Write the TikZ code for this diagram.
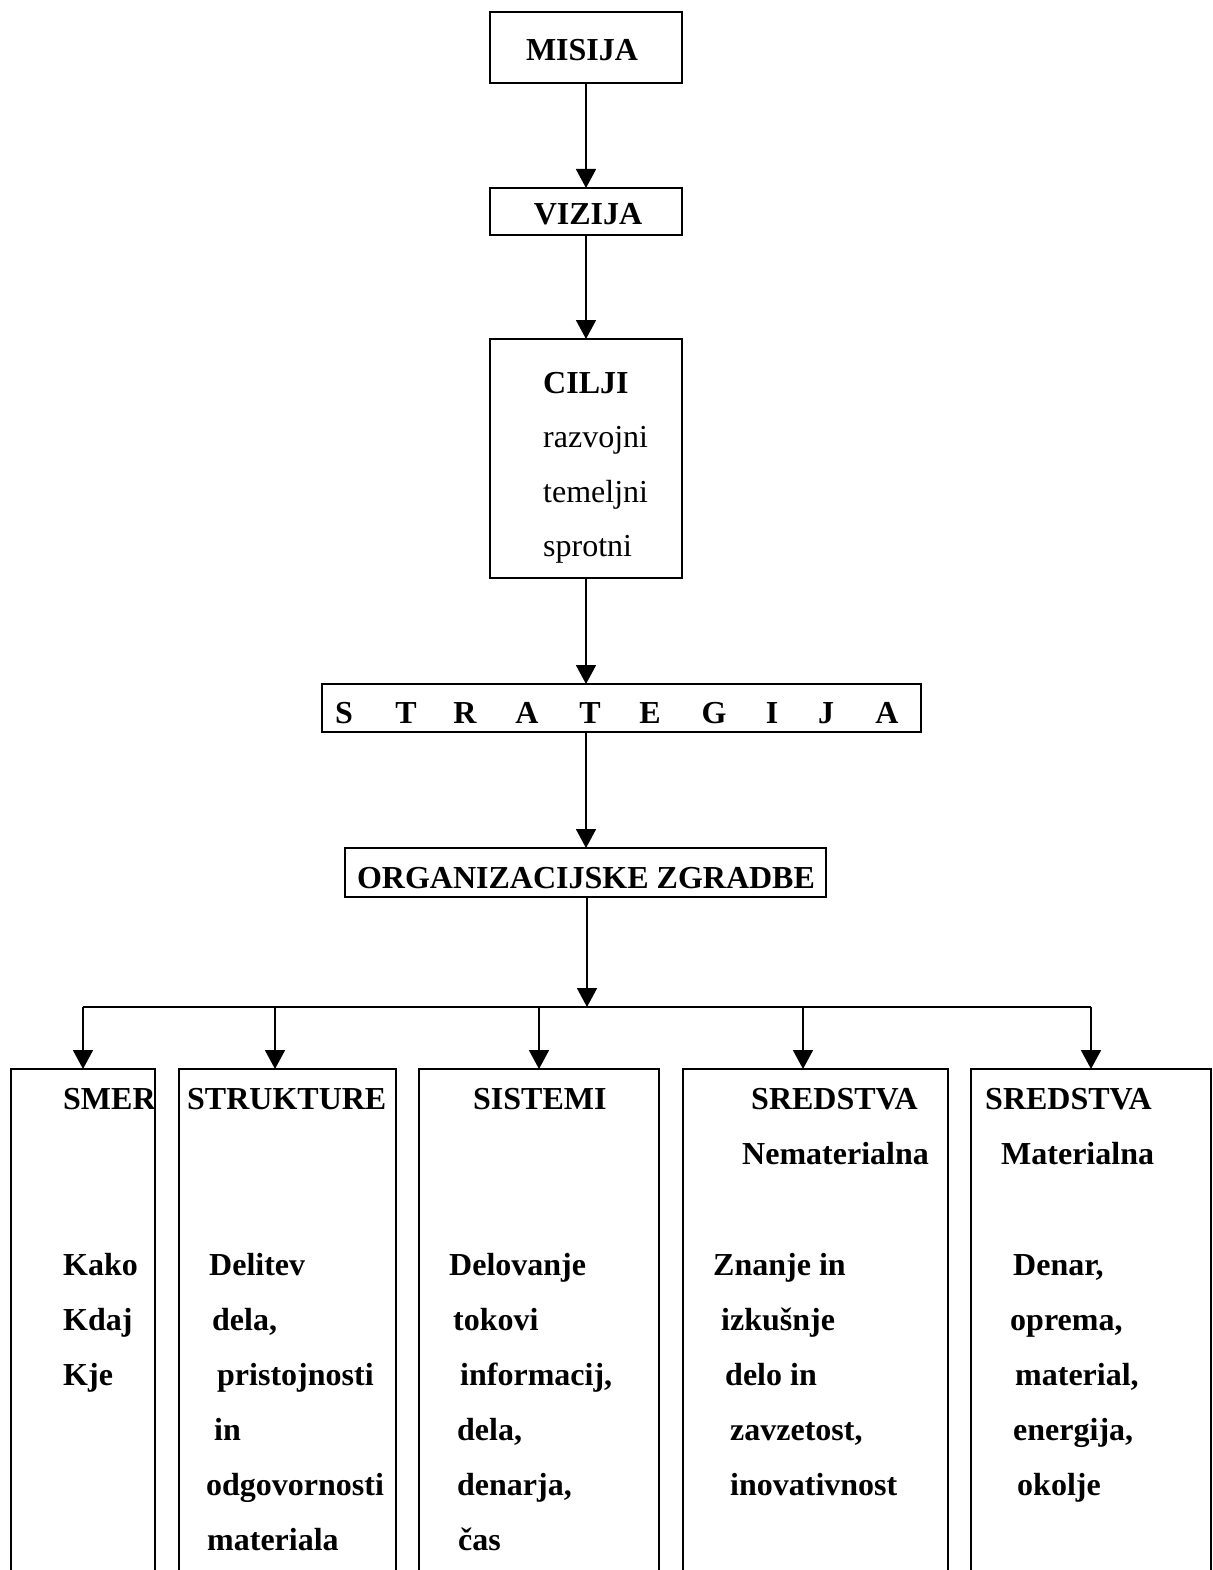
\documentclass[tikz,border=0pt]{standalone}
\usepackage{fontspec}
\setmainfont{Liberation Serif}
\usetikzlibrary{arrows.meta}
\begin{document}
\begin{tikzpicture}[x=1pt,y=-1pt,
  box/.style={draw, line width=1.8pt, inner sep=0pt, outer sep=0pt, anchor=north west},
  bt/.style={anchor=base west, inner sep=0pt, font=\bfseries\fontsize{32}{38}\selectfont},
  rt/.style={anchor=base west, inner sep=0pt, font=\fontsize{32}{38}\selectfont},
  ct/.style={anchor=base, inner sep=0pt, font=\bfseries\fontsize{32}{38}\selectfont},
  link/.style={line width=1.8pt, -{Triangle[width=20pt,length=19pt]}},
  wire/.style={line width=1.8pt},
]
\useasboundingbox (0,0) rectangle (1212,1570);
\clip (0,0) rectangle (1212,1570);

% chain of boxes at the top
\node[box, minimum width=192pt, minimum height=71pt] (misija) at (490,12) {};
\node[ct] (misijat) at (582,61) {MISIJA};
\node[box, minimum width=192pt, minimum height=47pt] (vizija) at (490,188) {};
\node[ct] (vizijat) at (588,225) {VIZIJA};
\node[box, minimum width=192pt, minimum height=239pt] (cilji) at (490,339) {};
\node[bt] (c0) at (543,393) {CILJI};
\node[rt] (c1) at (543,447) {razvojni};
\node[rt] (c2) at (543,502) {temeljni};
\node[rt] (c3) at (543,556) {sprotni};

\node[box, minimum width=599pt, minimum height=48pt] (strat) at (322,684) {};
\foreach \ch/\cx [count=\i] in {S/344,T/406,R/465,A/527,T/590,E/650,G/714,I/772,J/826,A/887}
  \node[ct] (st\i) at (\cx,723) {\ch};

\node[box, minimum width=481pt, minimum height=49pt] (org) at (345,848) {};
\node[ct] (orgt) at (586,888) {ORGANIZACIJSKE ZGRADBE};

% connectors down the chain
\draw[link] (misija.south) -- (vizija.north);
\draw[link] (vizija.south) -- (cilji.north);
\draw[link] (cilji.south) -- (cilji.south |- strat.north);
\draw[link] (cilji.south |- strat.south) -- (cilji.south |- org.north);

% distribution bar
\coordinate (hub) at (587,1007);
\coordinate (d1) at (83,1007);
\coordinate (d2) at (275,1007);
\coordinate (d3) at (539,1007);
\coordinate (d4) at (803,1007);
\coordinate (d5) at (1091,1007);
\draw[link] (org.south -| hub) -- (hub);
\draw[wire] (d1) -- (d5);

% bottom boxes (running past the lower edge)
\node[box, minimum width=144pt, minimum height=520pt] (smer) at (11,1069) {};
\node[box, minimum width=217pt, minimum height=520pt] (strukt) at (179,1069) {};
\node[box, minimum width=240pt, minimum height=520pt] (sist) at (419,1069) {};
\node[box, minimum width=265pt, minimum height=520pt] (nemat) at (683,1069) {};
\node[box, minimum width=240pt, minimum height=520pt] (mat) at (971,1069) {};

\draw[link] (d1) -- (d1 |- smer.north);
\draw[link] (d2) -- (d2 |- strukt.north);
\draw[link] (d3) -- (d3 |- sist.north);
\draw[link] (d4) -- (d4 |- nemat.north);
\draw[link] (d5) -- (d5 |- mat.north);

% SMER
\node[bt] (s0) at (63,1109) {SMER};
\node[bt] (s1) at (63,1275) {Kako};
\node[bt] (s2) at (63,1330) {Kdaj};
\node[bt] (s3) at (63,1385) {Kje};

% STRUKTURE
\node[bt] (t0) at (187,1109) {STRUKTURE};
\node[bt] (t1) at (209,1275) {Delitev};
\node[bt] (t2) at (212,1330) {dela,};
\node[bt] (t3) at (217,1385) {pristojnosti};
\node[bt] (t4) at (214,1440) {in};
\node[bt] (t5) at (206,1495) {odgovornosti};
\node[bt] (t6) at (207,1550) {materiala};

% SISTEMI
\node[bt] (y0) at (473,1109) {SISTEMI};
\node[bt] (y1) at (449,1275) {Delovanje};
\node[bt] (y2) at (453,1330) {tokovi};
\node[bt] (y3) at (460,1385) {informacij,};
\node[bt] (y4) at (457,1440) {dela,};
\node[bt] (y5) at (457,1495) {denarja,};
\node[bt] (y6) at (458,1550) {čas};

% SREDSTVA Nematerialna
\node[bt] (n0) at (751,1109) {SREDSTVA};
\node[bt] (n1) at (742,1164) {Nematerialna};
\node[bt] (n2) at (713,1275) {Znanje in};
\node[bt] (n3) at (721,1330) {izkušnje};
\node[bt] (n4) at (725,1385) {delo in};
\node[bt] (n5) at (730,1440) {zavzetost,};
\node[bt] (n6) at (730,1495) {inovativnost};

% SREDSTVA Materialna
\node[bt] (m0) at (985,1109) {SREDSTVA};
\node[bt] (m1) at (1001,1164) {Materialna};
\node[bt] (m2) at (1013,1275) {Denar,};
\node[bt] (m3) at (1010,1330) {oprema,};
\node[bt] (m4) at (1015,1385) {material,};
\node[bt] (m5) at (1013,1440) {energija,};
\node[bt] (m6) at (1017,1495) {okolje};
\end{tikzpicture}
\end{document}
